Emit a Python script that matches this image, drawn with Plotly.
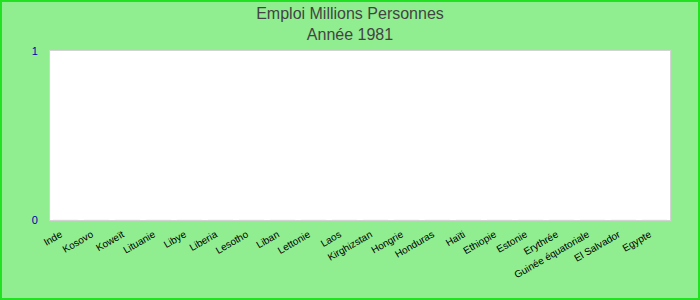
import plotly.graph_objects as go

countries = ["Inde", "Kosovo", "Koweït", "Lituanie", "Libye", "Liberia", "Lesotho",
             "Liban", "Lettonie", "Laos", "Kirghizstan", "Hongrie", "Honduras", "Haïti",
             "Ethiopie", "Estonie", "Erythrée", "Guinée équatoriale", "El Salvador", "Egypte"]
values = [0] * len(countries)

W, H = 700, 300
ml, mr, mt, mb = 50, 30, 51, 80

fig = go.Figure(go.Bar(x=countries, y=values, marker_color="#4472c4"))

fig.update_layout(
    width=W, height=H,
    margin=dict(l=ml, r=mr, t=mt, b=mb),
    paper_bgcolor="#90EE90",
    plot_bgcolor="white",
    showlegend=False,
    font=dict(family="Liberation Sans, Arial, sans-serif"),
    title=dict(text="Emploi Millions Personnes<br>Année 1981", x=0.5, xanchor="center",
               y=1 - 19 / H, yanchor="middle", font=dict(size=16, color="#444")),
    xaxis=dict(tickangle=-30, tickfont=dict(size=10, color="black"), showgrid=False,
               showline=True, linecolor="#d3d3d3", mirror=True, ticks="",
               ticklabelstandoff=4, ticklabelshift=-5),
    yaxis=dict(range=[0, 1], dtick=1, tickfont=dict(size=11, color="#0000aa"), showgrid=False,
               zeroline=False, showline=True, linecolor="#d3d3d3", mirror=True, ticks="",
               ticklabelstandoff=9),
)

pw, ph = W - ml - mr, H - mt - mb
fig.add_shape(type="rect", xref="paper", yref="paper",
              x0=-(ml - 1) / pw, x1=1 + (mr - 1) / pw,
              y0=-(mb - 1) / ph, y1=1 + (mt - 1) / ph,
              line=dict(color="#22e022", width=2), fillcolor="rgba(0,0,0,0)", layer="above")

fig.write_html("out.html")
